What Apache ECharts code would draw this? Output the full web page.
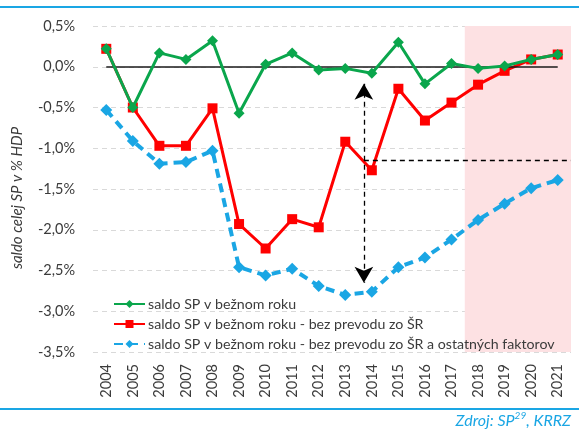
<!DOCTYPE html>
<html>
<head>
<meta charset="utf-8">
<script src="https://cdn.jsdelivr.net/npm/echarts@6/dist/echarts.min.js"></script>
<style>
  html, body { margin: 0; padding: 0; background: #fff; }
  #main { width: 579px; height: 432px; }
</style>
</head>
<body>
<div id="main"></div>
<script>
const years = ['2004', '2005', '2006', '2007', '2008', '2009', '2010', '2011', '2012',
  '2013', '2014', '2015', '2016', '2017', '2018', '2019', '2020', '2021'];

// saldo SP v bežnom roku
const saldo = [0.22, -0.50, 0.17, 0.09, 0.32, -0.57, 0.03, 0.17, -0.04,
  -0.02, -0.08, 0.30, -0.21, 0.04, -0.02, 0.01, 0.09, 0.15];
// bez prevodu zo ŠR
const bezPrevodu = [0.22, -0.50, -0.97, -0.97, -0.51, -1.93, -2.23, -1.87, -1.97,
  -0.92, -1.27, -0.27, -0.66, -0.44, -0.22, -0.05, 0.09, 0.15];
// bez prevodu zo ŠR a ostatných faktorov
const bezFaktorov = [-0.53, -0.91, -1.19, -1.17, -1.03, -2.46, -2.56, -2.48, -2.69,
  -2.80, -2.76, -2.46, -2.34, -2.12, -1.88, -1.68, -1.49, -1.39];

const seriesNames = [
  'saldo SP v bežnom roku',
  'saldo SP v bežnom roku - bez prevodu zo ŠR',
  'saldo SP v bežnom roku - bez prevodu zo ŠR a ostatných faktorov'
];

// annotation positions (in category index units on a hidden value axis)
const arrowX = 9.7;
const arrowTop = -0.21;
const arrowBottom = -2.65;
const refLevel = -1.15;
const forecastFrom = 13.5;
const forecastTo = 17.5;

const font = 'Lato, "Open Sans", sans-serif';
const textColor = '#3b3b3b';
const blue = '#1aa6e4';

const chart = echarts.init(document.getElementById('main'));

const option = {
  animation: false,
  textStyle: { fontFamily: font },
  grid: { left: 93, right: 8, top: 26, bottom: 80 },
  legend: {
    data: seriesNames,
    orient: 'vertical',
    left: 108,
    top: 292,
    itemGap: 6,
    itemWidth: 31,
    itemHeight: 10,
    textStyle: { fontSize: 14.2, color: textColor, fontFamily: font, padding: [0, 0, 0, -2] }
  },
  xAxis: [
    {
      type: 'category',
      data: years,
      axisLine: { show: false },
      axisTick: { show: false },
      axisLabel: {
        rotate: 90,
        fontSize: 14.5,
        color: textColor,
        margin: 12,
        fontFamily: font
      }
    },
    {
      type: 'value',
      min: -0.5,
      max: 17.5,
      show: false
    }
  ],
  yAxis: {
    type: 'value',
    min: -3.5,
    max: 0.5,
    interval: 0.5,
    name: 'saldo celej SP v % HDP',
    nameLocation: 'middle',
    nameGap: 68,
    nameRotate: 90,
    nameTextStyle: { fontSize: 15, fontStyle: 'italic', color: textColor, fontFamily: font, padding: [0, 0, 0, -18] },
    axisLine: { show: false },
    axisTick: { show: false },
    axisLabel: {
      fontSize: 14.5,
      color: textColor,
      margin: 18,
      fontFamily: font,
      formatter: v => v.toFixed(1).replace('.', ',') + '%'
    },
    splitLine: { lineStyle: { color: '#d9d9d9', type: [5, 4], width: 1 } }
  },
  series: [
    {
      name: 'annotations',
      type: 'line',
      xAxisIndex: 1,
      data: [],
      clip: false,
      silent: true,
      markArea: {
        silent: true,
        itemStyle: { color: '#fde1e3' },
        data: [[{ xAxis: forecastFrom }, { xAxis: forecastTo }]]
      },
      markLine: {
        silent: true,
        symbol: 'none',
        label: { show: false },
        data: [
          [
            { coord: [0, 0], lineStyle: { color: '#1a1a1a', type: 'solid', width: 1.5 } },
            { coord: [17, 0] }
          ],
          [
            { coord: [arrowX, arrowTop], symbol: 'arrow', symbolSize: [14, 16],
              lineStyle: { color: '#000', type: [5, 4], width: 1.3 } },
            { coord: [arrowX, arrowBottom], symbol: 'arrow', symbolSize: [14, 16] }
          ],
          [
            { coord: [arrowX, refLevel], lineStyle: { color: '#000', type: [5, 4], width: 1.3 } },
            { coord: [17.5, refLevel] }
          ]
        ]
      }
    },
    {
      name: seriesNames[2],
      type: 'line',
      data: bezFaktorov,
      symbol: 'diamond',
      symbolSize: 12,
      color: blue,
      itemStyle: { color: blue },
      lineStyle: { color: blue, width: 4, type: [9, 6] },
      z: 3
    },
    {
      name: seriesNames[1],
      type: 'line',
      data: bezPrevodu,
      symbol: 'rect',
      symbolSize: 10,
      color: '#ff0000',
      itemStyle: { color: '#ff0000' },
      lineStyle: { color: '#ff0000', width: 3 },
      z: 4
    },
    {
      name: seriesNames[0],
      type: 'line',
      data: saldo,
      symbol: 'diamond',
      symbolSize: 11,
      color: '#0aa64c',
      itemStyle: { color: '#0aa64c' },
      lineStyle: { color: '#0aa64c', width: 3 },
      z: 5
    }
  ],
  graphic: [
    {
      type: 'line',
      shape: { x1: 0, y1: 7, x2: 579, y2: 7 },
      style: { stroke: blue, lineWidth: 2 }
    },
    {
      type: 'line',
      shape: { x1: 0, y1: 409, x2: 579, y2: 409 },
      style: { stroke: blue, lineWidth: 2 }
    },
    {
      type: 'text',
      right: 8,
      top: 411,
      style: {
        text: '{a|Zdroj: SP}{s|29}{a|, KRRZ}',
        rich: {
          a: { fontSize: 16, fontStyle: 'italic', fill: blue, fontFamily: font, verticalAlign: 'bottom' },
          s: { fontSize: 10, fontStyle: 'italic', fill: blue, fontFamily: font, verticalAlign: 'top', padding: [0, 0, 8, 0] }
        }
      }
    }
  ]
};

chart.setOption(option);
</script>
</body>
</html>
